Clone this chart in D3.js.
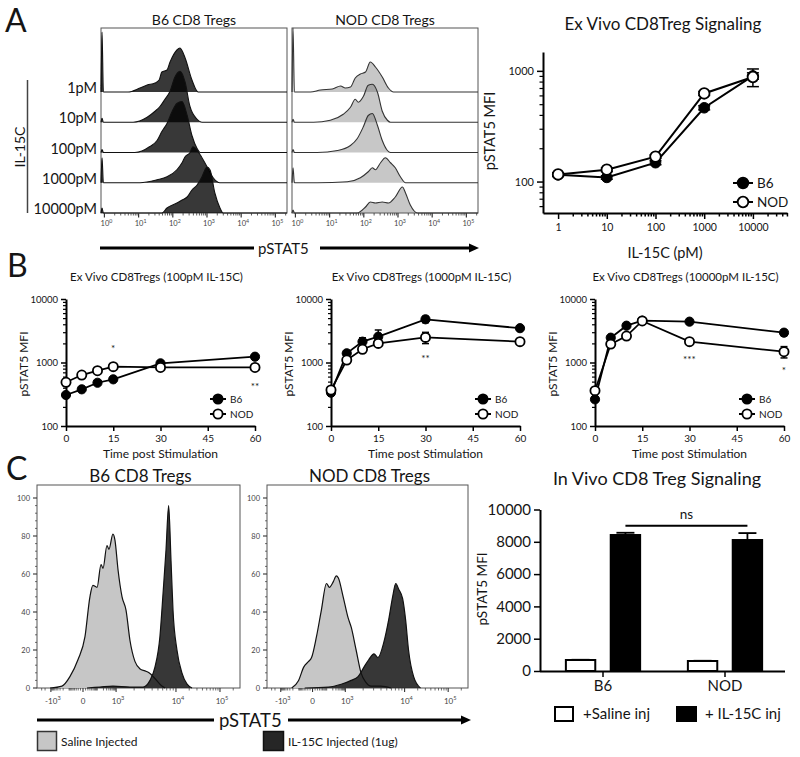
<!DOCTYPE html>
<html><head><meta charset="utf-8">
<script src="https://cdn.jsdelivr.net/npm/d3@7/dist/d3.min.js"></script>
<style>
html,body{margin:0;padding:0;background:#fff;}
svg{display:block;}
text{font-family:Lato,"Open Sans",sans-serif;fill:#151515;}
</style></head><body>
<svg id="fig" width="800" height="757"></svg>
<script>
// ================= DATA =================
// Panel A histograms: [log10(pSTAT5), count]
const concLabels = ["1pM","10pM","100pM","1000pM","10000pM"];
const histDecades = [0,1,2,3,4,5];
const b6HistRows = [
 [[-0.1,0],[-0.07,120],[-0.03,0],[0.69,0],[1.04,8],[1.25,14],[1.48,18],[1.6,24],[1.68,40],[1.83,44],[1.92,60],[2.12,84],[2.21,88],[2.36,68],[2.56,24],[2.74,0]],
 [[-0.1,0],[-0.07,8],[-0.03,0],[0.84,0],[1.25,10],[1.48,22],[1.63,32],[1.77,46],[1.92,62],[2.06,90],[2.21,102],[2.36,80],[2.5,32],[2.71,6],[2.85,0]],
 [[-0.1,0],[-0.07,6],[-0.03,0],[0.89,0],[1.33,12],[1.54,24],[1.68,42],[1.83,58],[1.98,82],[2.12,98],[2.27,102],[2.42,74],[2.56,34],[2.71,8],[2.8,0]],
 [[-0.1,0],[-0.07,50],[-0.03,0],[1.04,0],[1.54,6],[1.83,12],[2.12,26],[2.27,40],[2.36,52],[2.5,60],[2.59,72],[2.8,56],[3.0,32],[3.18,10],[3.38,0]],
 [[-0.1,0],[-0.07,10],[-0.03,0],[1.68,0],[1.83,10],[2.12,20],[2.27,26],[2.42,32],[2.56,46],[2.71,56],[2.85,72],[3.0,92],[3.09,86],[3.23,40],[3.38,10],[3.47,0]]
];
const nodHistRows = [
 [[-0.1,0],[-0.07,128],[-0.03,0],[0.44,0],[0.73,4],[1.08,6],[1.32,12],[1.46,8],[1.61,10],[1.75,28],[1.9,36],[2.05,40],[2.19,60],[2.34,50],[2.54,30],[2.72,8],[2.87,0]],
 [[-0.1,0],[-0.07,6],[-0.03,0],[0.53,0],[1.02,4],[1.4,16],[1.61,30],[1.75,46],[1.84,40],[1.99,52],[2.13,74],[2.25,76],[2.4,60],[2.54,22],[2.69,4],[2.78,0]],
 [[-0.1,0],[-0.07,6],[-0.03,0],[0.64,0],[1.23,4],[1.61,14],[1.81,28],[1.99,52],[2.13,74],[2.25,78],[2.4,54],[2.54,24],[2.69,4],[2.78,0]],
 [[-0.1,0],[-0.07,30],[-0.03,0],[0.64,0],[1.52,2],[1.9,10],[2.13,22],[2.25,30],[2.34,26],[2.49,40],[2.63,50],[2.78,40],[2.92,30],[3.07,12],[3.22,0]],
 [[-0.1,0],[-0.07,6],[-0.03,0],[1.81,0],[2.05,12],[2.19,22],[2.34,20],[2.54,22],[2.72,20],[2.92,32],[3.13,52],[3.22,40],[3.36,16],[3.57,0]]
];

// Panel A dose response
const doseConc = [1,10,100,1000,10000];
const doseTickLabels = ["1","10","100","1000","10000"];
const doseB6 = [115,109,148,464,900];
const doseB6Err = [4,4,6,20,60];
const doseNOD = [116,128,168,625,880];
const doseNODErr = [4,5,6,25,160];

// Panel B time courses
const timePoints = [0,5,10,15,30,60];
const timeTicks = [0,15,30,45,60];
const t100B6 = [308,378,480,543,970,1234];
const t100B6Err = [20,20,25,30,60,80];
const t100NOD = [488,635,742,860,835,835];
const t100NODErr = [25,30,35,40,40,50];
const t100Stars = [{t:15,v:1750,s:"*"},{t:60,v:443,s:"**"}];
const t1000B6 = [335,1396,2130,2550,4790,3470];
const t1000B6Err = [30,120,320,700,550,250];
const t1000NOD = [369,1094,1615,2000,2485,2130];
const t1000NODErr = [30,80,150,150,500,150];
const t1000Stars = [{t:30,v:1220,s:"**"}];
const t10000B6 = [263,2460,3800,4560,4400,2950];
const t10000B6Err = [20,150,300,200,300,300];
const t10000NOD = [360,1950,2610,4510,2130,1480];
const t10000NODErr = [30,150,150,200,200,300];
const t10000Stars = [{t:30,v:1180,s:"***"},{t:60,v:790,s:"*"}];

// Panel C histograms: [channel, % of max]
const cTickLabels = [["-10","3"],["0",""],["10","3"],["10","4"],["10","5"]];
const cTickChannels = [70,232,399,701,923];
const b6Saline = [[66,0],[126,1],[166,6],[207,15],[242,27],[267,48],[282,54],[303,53],[323,65],[333,63],[353,75],[363,73],[383,81],[393,78],[409,62],[429,48],[449,41],[469,25],[494,14],[520,10],[545,9],[565,8],[595,5],[630,1],[646,0]];
const b6IL15 = [[252,0],[318,0.5],[383,1],[469,0.5],[535,0.5],[570,4],[595,11],[620,27],[636,50],[651,73],[664,96],[676,67],[686,41],[706,20],[731,8],[757,2],[782,0]];
const nodSaline = [[126,0],[161,4],[187,11],[212,14],[227,16],[252,27],[277,41],[303,55],[318,53],[338,56],[353,59],[363,58],[388,48],[413,37],[429,32],[454,20],[479,8],[504,3],[530,1],[580,1],[631,0]];
const nodIL15 = [[192,0],[313,0.5],[378,2],[429,4],[464,6],[494,11],[519,15],[545,18],[565,16],[595,24],[620,36],[640,48],[656,55],[671,52],[691,47],[706,36],[721,20],[747,6],[782,0]];

// Panel C bar chart
const barGroups = ["B6","NOD"];
const barSeries = ["saline","il15"];
const barSaline = [681,619];
const barSalineErr = [15,15];
const barIL15 = [8420,8110];
const barIL15Err = [140,430];
const barTicks = [0,2000,4000,6000,8000,10000];
const nsBracketValue = 9000;

// ================= DRAWING =================
const svg = d3.select("#fig");
const P = e => Math.pow(10, e);

function T(x, y, s, size, anchor, g) {
  return (g||svg).append("text").attr("x",x).attr("y",y).attr("font-size",size)
    .attr("text-anchor",anchor||"start").text(s);
}
function VT(x, y, s, size) {
  return svg.append("text").attr("transform",`translate(${x},${y}) rotate(-90)`)
    .attr("text-anchor","middle").attr("font-size",size).text(s);
}
function powLabel(g, x, y, base, exp, size) {
  const t = g.append("text").attr("x",x).attr("y",y).attr("font-size",size)
    .attr("text-anchor","middle").style("fill","#444");
  t.append("tspan").text(base);
  if (exp) t.append("tspan").attr("dy",-size*0.45).attr("font-size",size*0.7).text(exp);
  return t;
}
function styleAxis(g, size, domainW) {
  g.attr("font-family",null).attr("font-size",null);
  g.selectAll("text").attr("font-size",size).style("fill","#151515");
  g.select(".domain").attr("stroke-width",domainW||2).attr("stroke","#000");
  g.selectAll(".tick line").attr("stroke","#000").attr("stroke-width",1.5);
}

// ---- Panel letters ----
T(5,32,"A",32); T(7,277,"B",32); T(6,480,"C",32);

// ---- Panel A histograms ----
const hDomain = [P(-0.1), P(5.34)];
function drawHistStack(x0, x1, rows, fill, fillOp, stroke, title) {
  const x = d3.scaleLog().domain(hDomain).range([x0, x1]);
  const rowY = d3.scalePoint().domain(concLabels).range([92, 213]);
  const h = d3.scaleLinear().domain([0,100]).range([0,50]);
  const g = svg.append("g");
  g.append("rect").attr("x",x0).attr("y",28).attr("width",x1-x0).attr("height",185)
    .attr("fill","none").attr("stroke","#555").attr("stroke-width",1);
  rows.forEach((row,i) => {
    const base = rowY(concLabels[i]);
    const pts = row.concat([[5.34,0]]);
    const area = d3.area().x(d=>x(P(d[0]))).y0(base).y1(d=>base-h(d[1])).curve(d3.curveMonotoneX);
    const line = d3.line().x(d=>x(P(d[0]))).y(d=>base-h(d[1])).curve(d3.curveMonotoneX);
    g.append("path").attr("d",area(pts)).attr("fill",fill).attr("fill-opacity",fillOp);
    g.append("path").attr("d",line(pts)).attr("fill","none").attr("stroke",stroke).attr("stroke-width",1.1);
  });
  // ticks
  histDecades.forEach(d => {
    g.append("line").attr("x1",x(P(d))).attr("x2",x(P(d))).attr("y1",213).attr("y2",217.5).attr("stroke","#333").attr("stroke-width",1.2);
    powLabel(g, x(P(d))+2, 226, "10", String(d), 7.5);
    for (let k=2;k<=9;k++){ const v=k*P(d); if (v<hDomain[1]) {
      g.append("line").attr("x1",x(v)).attr("x2",x(v)).attr("y1",213).attr("y2",215.5).attr("stroke","#333").attr("stroke-width",0.8);
    }}
  });
  T((x0+x1)/2, 25, title, 14, "middle", g);
}
drawHistStack(101, 287, b6HistRows, "#000", 0.78, "#111", "B6 CD8 Tregs");
drawHistStack(292, 478, nodHistRows, "#646464", 0.36, "#333", "NOD CD8 Tregs");
{
  const rowY = d3.scalePoint().domain(concLabels).range([92, 213]);
  concLabels.forEach(c => T(97, rowY(c)+1, c, 14.5, "end"));
  svg.append("line").attr("x1",27.5).attr("x2",27.5).attr("y1",80).attr("y2",213).attr("stroke","#444").attr("stroke-width",1.5);
  VT(25, 147, "IL-15C", 14);
  svg.append("line").attr("x1",100).attr("x2",254).attr("y1",248).attr("y2",248).attr("stroke","#000").attr("stroke-width",3);
  T(258, 254, "pSTAT5", 15);
  svg.append("line").attr("x1",320).attr("x2",472).attr("y1",248).attr("y2",248).attr("stroke","#000").attr("stroke-width",3);
  svg.append("polygon").attr("points","469,243.5 479,248 469,252.5").attr("fill","#000");
}

// ---- Panel A dose-response ----
function errBars(g, xs, ys, errs, xf, yf, cap) {
  xs.forEach((xv,i) => {
    if (!errs[i]) return;
    const X = xf(xv), y1 = yf(ys[i]+errs[i]), y2 = yf(Math.max(ys[i]-errs[i], 1));
    g.append("line").attr("x1",X).attr("x2",X).attr("y1",y1).attr("y2",y2).attr("stroke","#000").attr("stroke-width",1.5);
    [y1,y2].forEach(yy => g.append("line").attr("x1",X-cap).attr("x2",X+cap).attr("y1",yy).attr("y2",yy).attr("stroke","#000").attr("stroke-width",1.5));
  });
}
function series(g, xs, ys, xf, yf, filled, r, lw) {
  const line = d3.line().x((d,i)=>xf(xs[i])).y(d=>yf(d));
  g.append("path").attr("d",line(ys)).attr("fill","none").attr("stroke","#000").attr("stroke-width",lw);
  ys.forEach((v,i) => g.append("circle").attr("cx",xf(xs[i])).attr("cy",yf(v)).attr("r",r)
    .attr("fill",filled?"#000":"#fff").attr("stroke","#000").attr("stroke-width",filled?1:1.8));
}
function legend(g, x, y, filled, label, r, size, half) {
  g.append("line").attr("x1",x-half).attr("x2",x+half).attr("y1",y).attr("y2",y).attr("stroke","#000").attr("stroke-width",2);
  g.append("circle").attr("cx",x).attr("cy",y).attr("r",r).attr("fill",filled?"#000":"#fff").attr("stroke","#000").attr("stroke-width",1.8);
  T(x+half+4, y, label, size, "start", g).attr("dy","0.35em");
}
{
  const g = svg.append("g");
  const x = d3.scaleLog().domain([P(-0.31), P(4.7)]).range([543,787]);
  const y = d3.scaleLog().domain([52,1480]).range([213,52]);
  const minorX = []; [0,1,2,3,4].forEach(d=>{for(let k=2;k<=9;k++){const v=k*P(d); if(v<P(4.7)) minorX.push(v);}});
  const minorY = [60,70,80,90,200,300,400,500,600,700,800,900];
  const gx2 = g.append("g").attr("transform","translate(0,213)").call(d3.axisBottom(x).tickValues(minorX).tickSize(3.5).tickFormat("").tickSizeOuter(0));
  gx2.select(".domain").remove(); gx2.selectAll(".tick line").attr("stroke","#000").attr("stroke-width",1.5);
  const gy2 = g.append("g").attr("transform","translate(543,0)").call(d3.axisLeft(y).tickValues(minorY).tickSize(3.5).tickFormat("").tickSizeOuter(0));
  gy2.select(".domain").remove(); gy2.selectAll(".tick line").attr("stroke","#000").attr("stroke-width",1.2);
  const gx = g.append("g").attr("transform","translate(0,213)").call(d3.axisBottom(x).tickValues(doseConc).tickFormat((d,i)=>doseTickLabels[i]).tickSize(6).tickSizeOuter(0));
  styleAxis(gx, 10.5); gx.selectAll("text").attr("dy","0.85em");
  const gy = g.append("g").attr("transform","translate(543,0)").call(d3.axisLeft(y).tickValues([100,1000]).tickFormat(d3.format("d")).tickSize(6).tickSizeOuter(0));
  styleAxis(gy, 11);
  errBars(g, doseConc, doseB6, doseB6Err, x, y, 6);
  errBars(g, doseConc, doseNOD, doseNODErr, x, y, 6);
  series(g, doseConc, doseB6, x, y, true, 5.3, 2);
  series(g, doseConc, doseNOD, x, y, false, 5.3, 2);
  legend(g, 743, 183, true, "B6", 5.3, 13.5, 10);
  legend(g, 743, 202, false, "NOD", 5.3, 13.5, 10);
  T(663, 30, "Ex Vivo CD8Treg Signaling", 17, "middle", g);
  T(665, 258, "IL-15C (pM)", 14.5, "middle", g);
  VT(495, 131, "pSTAT5 MFI", 14.5);
}

// ---- Panel B time courses ----
function drawTime(x0, title, b6, b6e, nod, nodE, stars) {
  const g = svg.append("g");
  const x = d3.scaleLinear().domain([0,60]).range([x0, x0+189]);
  const y = d3.scaleLog().domain([100,10000]).range([426,299]);
  const minorY = []; [2,3].forEach(d=>{for(let k=2;k<=9;k++) minorY.push(k*P(d));});
  const gy2 = g.append("g").attr("transform",`translate(${x0},0)`).call(d3.axisLeft(y).tickValues(minorY).tickSize(3).tickFormat("").tickSizeOuter(0));
  gy2.select(".domain").remove(); gy2.selectAll(".tick line").attr("stroke","#000").attr("stroke-width",1.2);
  const gx = g.append("g").attr("transform","translate(0,426)").call(d3.axisBottom(x).tickValues(timeTicks).tickSize(5).tickSizeOuter(0));
  styleAxis(gx, 10); gx.selectAll("text").attr("dy","0.75em");
  const gy = g.append("g").attr("transform",`translate(${x0},0)`).call(d3.axisLeft(y).tickValues([100,1000,10000]).tickFormat(d3.format("d")).tickSize(5).tickSizeOuter(0));
  styleAxis(gy, 9.5);
  errBars(g, timePoints, b6, b6e, x, y, 3.5);
  errBars(g, timePoints, nod, nodE, x, y, 3.5);
  series(g, timePoints, b6, x, y, true, 4.6, 1.8);
  series(g, timePoints, nod, x, y, false, 4.6, 1.8);
  stars.forEach(s => T(x(s.t), y(s.v)+5, s.s, 10, "middle", g));
  legend(g, x0+152, 399, true, "B6", 4.6, 10, 8);
  legend(g, x0+152, 414, false, "NOD", 4.6, 10, 8);
  T(x0+90.5, 281, title, 11.5, "middle", g);
  T(x0+94.5, 458, "Time post Stimulation", 12, "middle", g);
  VT(x0-38, 364, "pSTAT5 MFI", 12);
}
drawTime(66, "Ex Vivo CD8Tregs (100pM IL-15C)", t100B6, t100B6Err, t100NOD, t100NODErr, t100Stars);
drawTime(331, "Ex Vivo CD8Tregs (1000pM IL-15C)", t1000B6, t1000B6Err, t1000NOD, t1000NODErr, t1000Stars);
drawTime(595, "Ex Vivo CD8Tregs (10000pM IL-15C)", t10000B6, t10000B6Err, t10000NOD, t10000NODErr, t10000Stars);

// ---- Panel C histograms ----
function drawCHist(x0, x1, title, saline, il15) {
  const g = svg.append("g");
  const x = d3.scaleLinear().domain([0,1024]).range([x0,x1]);
  const y = d3.scaleLinear().domain([0,100]).range([688,498]);
  g.append("rect").attr("x",x0).attr("y",485).attr("width",x1-x0).attr("height",203)
    .attr("fill","none").attr("stroke","#555").attr("stroke-width",1);
  const area = d3.area().x(d=>x(d[0])).y0(688).y1(d=>y(d[1])).curve(d3.curveMonotoneX);
  const line = d3.line().x(d=>x(d[0])).y(d=>y(d[1])).curve(d3.curveMonotoneX);
  g.append("path").attr("d",area(saline)).attr("fill","#c6c6c6");
  g.append("path").attr("d",area(il15)).attr("fill","#262626").attr("fill-opacity",0.92);
  g.append("path").attr("d",line(saline)).attr("fill","none").attr("stroke","#111").attr("stroke-width",1.2);
  g.append("path").attr("d",line(il15)).attr("fill","none").attr("stroke","#111").attr("stroke-width",1.2);
  // y ticks
  for (let v=0; v<=100; v+=4) {
    const major = v%20===0;
    g.append("line").attr("x1",x0-(major?4:2)).attr("x2",x0).attr("y1",y(v)).attr("y2",y(v)).attr("stroke","#333").attr("stroke-width",major?1.1:0.7);
  }
  for (let v=0; v<=100; v+=20) T(x0-7, y(v)+2.5, String(v), 7.5, "end", g).style("fill","#444");
  // x ticks: majors from tick channels, minors by decade / asinh around 0
  const c = cTickChannels;
  const minors = [];
  [[c[2],c[3]],[c[3],c[4]],[c[4],c[4]+(c[4]-c[3])]].forEach(([a,b])=>{for(let k=2;k<=9;k++){const ch=a+(b-a)*Math.log10(k); if(ch<1024) minors.push(ch);}});
  const asn = v => Math.asinh(v/30)/Math.asinh(1000/30);
  [10,20,30,40,50,60,70,80,90,200,300,400,500,600,700,800,900].forEach(v=>{
    minors.push(c[1]+(c[2]-c[1])*asn(v)); minors.push(c[1]-(c[1]-c[0])*asn(v));
  });
  [2,3].forEach(k=>{const ch=c[0]-(c[1]-c[0])*Math.log10(k)*0.6; if(ch>0) minors.push(ch);});
  minors.forEach(ch => g.append("line").attr("x1",x(ch)).attr("x2",x(ch)).attr("y1",688).attr("y2",690.5).attr("stroke","#333").attr("stroke-width",0.7));
  c.forEach((ch,i) => {
    g.append("line").attr("x1",x(ch)).attr("x2",x(ch)).attr("y1",688).attr("y2",692).attr("stroke","#333").attr("stroke-width",1.1);
    powLabel(g, x(ch)+(cTickLabels[i][1]?2:0), 704, cTickLabels[i][0], cTickLabels[i][1], 8);
  });
  T((x0+x1)/2+2, 482, title, 17, "middle", g);
}
drawCHist(37, 240, "B6 CD8 Tregs", b6Saline, b6IL15);
drawCHist(267, 468, "NOD CD8 Tregs", nodSaline, nodIL15);
{
  svg.append("line").attr("x1",37).attr("x2",214).attr("y1",720).attr("y2",720).attr("stroke","#000").attr("stroke-width",3);
  T(219, 727, "pSTAT5", 18.5);
  svg.append("line").attr("x1",288).attr("x2",463).attr("y1",720).attr("y2",720).attr("stroke","#000").attr("stroke-width",3);
  svg.append("polygon").attr("points","461,715.5 471,720 461,724.5").attr("fill","#000");
  svg.append("rect").attr("x",37.5).attr("y",731.5).attr("width",19).attr("height",19).attr("fill","#c6c6c6").attr("stroke","#333").attr("stroke-width",1.5);
  T(61, 746, "Saline Injected", 12);
  svg.append("rect").attr("x",263.5).attr("y",731.5).attr("width",20).attr("height",19).attr("fill","#262626").attr("stroke","#111").attr("stroke-width",1.5);
  T(288, 746, "IL-15C Injected (1ug)", 12);
}

// ---- Panel C bar chart ----
{
  const g = svg.append("g");
  const xg = d3.scaleBand().domain(barGroups).range([542,786]);
  const xs = d3.scaleBand().domain(barSeries).range([0, xg.bandwidth()]).paddingInner(0.3).paddingOuter(0.51);
  const y = d3.scaleLinear().domain([0,10000]).range([671,509.5]);
  const vals = {saline:barSaline, il15:barIL15};
  const errs = {saline:barSalineErr, il15:barIL15Err};
  barGroups.forEach((grp,i) => {
    barSeries.forEach(s => {
      const bx = xg(grp)+xs(s), bw = xs.bandwidth(), v = vals[s][i], e = errs[s][i];
      const cx = bx+bw/2;
      g.append("line").attr("x1",cx).attr("x2",cx).attr("y1",y(v)).attr("y2",y(v+e)).attr("stroke","#000").attr("stroke-width",1.8);
      g.append("line").attr("x1",cx-9).attr("x2",cx+9).attr("y1",y(v+e)).attr("y2",y(v+e)).attr("stroke","#000").attr("stroke-width",1.8);
      g.append("rect").attr("x",bx+1).attr("y",y(v)).attr("width",bw-2).attr("height",671-y(v))
        .attr("fill",s==="saline"?"#fff":"#000").attr("stroke","#000").attr("stroke-width",2);
    });
  });
  const gx = g.append("g").attr("transform","translate(0,671)").call(d3.axisBottom(xg).tickSize(6).tickSizeOuter(0));
  styleAxis(gx, 15); gx.selectAll("text").attr("dy","0.7em");
  gx.select(".domain").attr("d","M540,0.5H785");
  const gy = g.append("g").attr("transform","translate(540,0)").call(d3.axisLeft(y).tickValues(barTicks).tickFormat(d3.format("d")).tickSize(6).tickSizeOuter(0));
  styleAxis(gy, 15);
  // ns bracket between IL-15C bars
  const bx1 = xg("B6")+xs("il15")+xs.bandwidth()/2, bx2 = xg("NOD")+xs("il15")+xs.bandwidth()/2;
  g.append("line").attr("x1",bx1).attr("x2",bx2).attr("y1",y(nsBracketValue)).attr("y2",y(nsBracketValue)).attr("stroke","#000").attr("stroke-width",2);
  T((bx1+bx2)/2, y(nsBracketValue)-7, "ns", 13.5, "middle", g);
  T(657, 485, "In Vivo CD8 Treg Signaling", 18, "middle", g);
  VT(487, 589, "pSTAT5 MFI", 13.5);
  g.append("rect").attr("x",555).attr("y",707).attr("width",18).attr("height",14).attr("fill","#fff").attr("stroke","#000").attr("stroke-width",2);
  T(583, 719, "+Saline inj", 15, "start", g);
  g.append("rect").attr("x",677).attr("y",707).attr("width",19).attr("height",14).attr("fill","#000").attr("stroke","#000").attr("stroke-width",2);
  T(705, 719, "+ IL-15C inj", 15, "start", g);
}
</script>
</body></html>
